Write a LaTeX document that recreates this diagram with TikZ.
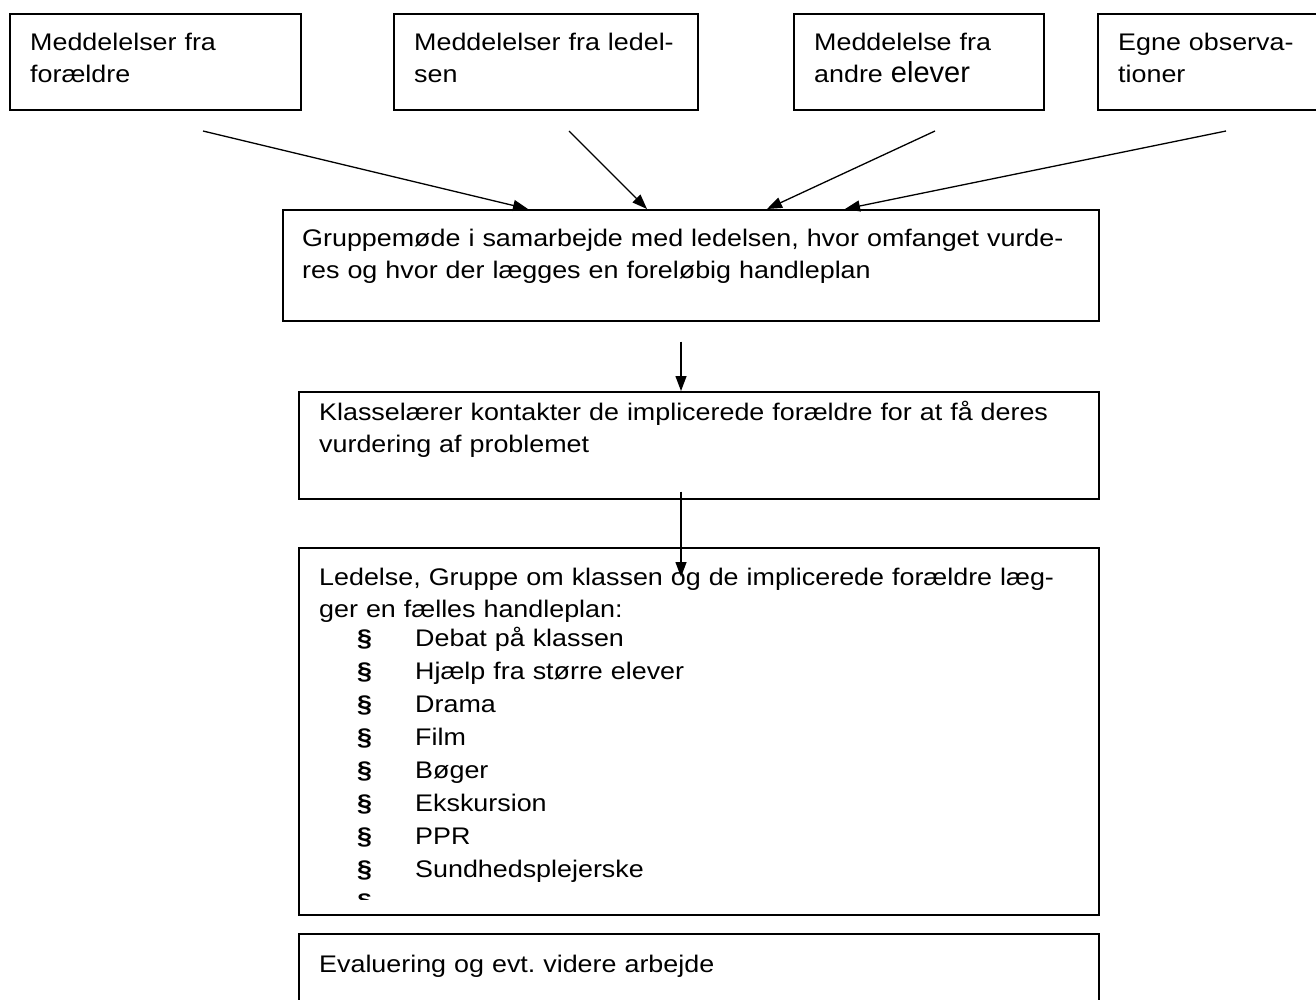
\documentclass[tikz,border=0pt]{standalone}
\usepackage{fontspec}
\setmainfont[FakeStretch=1.12]{Liberation Sans}
\newfontfamily\storfont{Liberation Sans}
\usetikzlibrary{arrows.meta,calc,positioning}
\tikzset{
    >={Triangle[length=15pt,width=11pt]}, % fyldte pilespidser
    kasse/.style={draw, line width=1.5pt, anchor=north west, inner sep=0pt},
    tekst/.style={anchor=base west, inner sep=0pt, align=left, text width=790pt,
        font=\fontsize{24}{32}\selectfont\frenchspacing},
    pil/.style={->, line width=1.3pt},
}
\begin{document}
\begin{tikzpicture}[x=1pt, y=-1pt]
    \useasboundingbox (0,0) rectangle (1316,999);

    % Kilder
    \node[kasse, minimum width=291pt, minimum height=96pt] (foraeldre) at (9,13) {};
    \node[kasse, minimum width=304pt, minimum height=96pt] (ledelsen) at (393,13) {};
    \node[kasse, minimum width=250pt, minimum height=96pt] (elever) at (793,13) {};
    \node[kasse, minimum width=260pt, minimum height=96pt] (egne) at (1097,13) {};
    \node[tekst] (foraeldretxt) at ($(foraeldre.north west)+(21,37)$) {Meddelelser fra\\forældre};
    \node[tekst] (ledelsentxt) at ($(ledelsen.north west)+(21,37)$) {Meddelelser fra ledel-\\sen};
    \node[tekst] (elevertxt) at ($(elever.north west)+(21,37)$)
        {Meddelelse fra\\andre {\storfont\fontsize{29}{32}\selectfont elever}};
    \node[tekst] (egnetxt) at ($(egne.north west)+(21,37)$) {Egne observa-\\tioner};

    % Forloeb
    \node[kasse, minimum width=816pt, minimum height=111pt] (gruppe) at (282,209) {};
    \node[kasse, minimum width=800pt, minimum height=107pt] (kontakt) at (298,391) {};
    \node[kasse, minimum width=800pt, minimum height=367pt] (plan) at (298,547) {};
    \node[kasse, minimum width=800pt, minimum height=100pt] (evaluering) at (298,933) {};
    \node[tekst] (gruppetxt) at ($(gruppe.north west)+(20,37)$)
        {Gruppemøde i samarbejde med ledelsen, hvor omfanget vurde-\\res og hvor der lægges en foreløbig handleplan};
    \node[tekst] (kontakttxt) at ($(kontakt.north west)+(21,29)$)
        {Klasselærer kontakter de implicerede forældre for at få deres\\vurdering af problemet};
    \node[tekst] (plantxt) at ($(plan.north west)+(21,38)$)
        {Ledelse, Gruppe om klassen og de implicerede forældre læg-\\ger en fælles handleplan:};
    \foreach \punkt [count=\i] in {Debat på klassen, Hjælp fra større elever, Drama, Film,
        Bøger, Ekskursion, PPR, Sundhedsplejerske}{
        \node[tekst] (para\i) at ($(plan.north west)+(59,66+33*\i)$) {\textbf{§}};
        \node[tekst] (punkt\i) at ($(plan.north west)+(117,66+33*\i)$) {\punkt};
    }
    \begin{scope}
        \clip (plan.north west) rectangle ($(plan.south east)+(0,-16)$);
        \node[tekst] (para9) at ($(plan.north west)+(59,363)$) {\textbf{§}};
    \end{scope}
    \node[tekst] (evalueringtxt) at ($(evaluering.north west)+(21,39)$) {Evaluering og evt. videre arbejde};

    % Pile
    \coordinate (fra1) at (203,131);
    \coordinate (fra2) at (569,131);
    \coordinate (fra3) at (935,131);
    \coordinate (fra4) at (1226,131);
    \coordinate (fra5) at ($(gruppe.south west)+(399,20)$);
    \coordinate (fra6) at ($(kontakt.south west)+(383,-8)$);
    \coordinate (til6) at ($(plan.north west)+(383,30)$);
    \draw[pil] (fra1) -- ($(gruppe.north west)+(246,0)$);
    \draw[pil] (fra2) -- ($(gruppe.north west)+(365,0)$);
    \draw[pil] (fra3) -- ($(gruppe.north west)+(485,0)$);
    \draw[pil] (fra4) -- ($(gruppe.north west)+(563,0)$);
    \draw[pil] (fra5) -- ($(kontakt.north west)+(383,0)$);
    \draw[pil] (fra6) -- (til6);
\end{tikzpicture}
\end{document}
